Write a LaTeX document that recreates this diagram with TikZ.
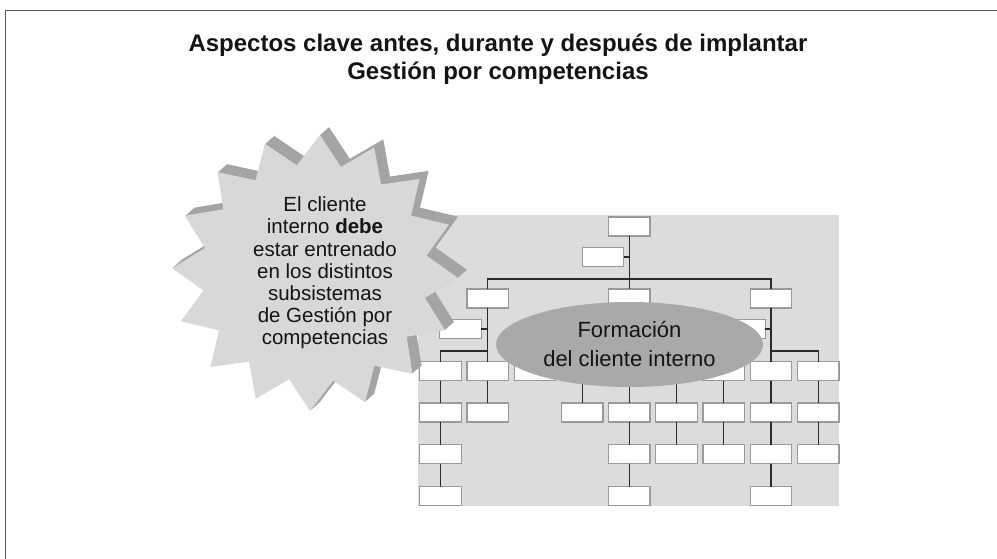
\documentclass[tikz,border=0pt]{standalone}
\usepackage{fontspec}
\setmainfont{Liberation Sans}
\usetikzlibrary{shapes.geometric}
\definecolor{framec}{HTML}{555555}
\definecolor{panelc}{HTML}{DCDCDD}
\definecolor{linec}{HTML}{2A2A2A}
\definecolor{boxc}{HTML}{9A9A9A}
\definecolor{ellc}{HTML}{A9A9A9}
\definecolor{starface}{HTML}{D8D8D8}
\definecolor{starside}{HTML}{A4A4A4}
\definecolor{txt}{HTML}{141414}
\begin{document}
\begin{tikzpicture}[x=1pt,y=-1pt,
  ln/.style={draw=linec,line width=1.2pt},
  bx/.style={draw=boxc,fill=white,line width=1.3pt,minimum width=41.5pt,minimum height=19pt,inner sep=0pt,outer sep=0pt},
]
\useasboundingbox (0,0) rectangle (997,559);
\draw[framec,line width=1.6pt] (5.5,559) -- (5.5,10.5) -- (997,10.5);

\node[font=\bfseries\fontsize{24}{28}\selectfont,align=center,text=txt] (title) at (498,59)
  {Aspectos clave antes, durante y después de implantar\\Gestión por competencias};

\node[fill=panelc,minimum width=421pt,minimum height=291pt,inner sep=0pt,anchor=north west] (panel) at (418,215) {};

% boxes
\node[bx] (top) at (629.3,226.5) {};
\node[bx] (a1) at (603,257) {};
\node[bx] (l2) at (487.7,298.5) {};
\node[bx] (m2) at (629.3,298.5) {};
\node[bx] (r2) at (770.9,298.5) {};
\node[bx] (a3l) at (460.5,329) {};
\node[bx] (a3r) at (744.5,329) {};
\foreach \k/\x in {0/440.5,1/487.7,2/534.9,3/582.1,4/629.3,5/676.5,6/723.7,7/770.9,8/818.1}{
  \node[bx] (r4c\k) at (\x,371) {};
}
\foreach \k/\x in {0/440.5,1/487.7,3/582.1,4/629.3,5/676.5,6/723.7,7/770.9,8/818.1}{
  \node[bx] (r5c\k) at (\x,412.5) {};
}
\foreach \k/\x in {0/440.5,4/629.3,5/676.5,6/723.7,7/770.9,8/818.1}{
  \node[bx] (r6c\k) at (\x,454) {};
}
\foreach \k/\x in {0/440.5,4/629.3,7/770.9}{
  \node[bx] (r7c\k) at (\x,496) {};
}

% connectors
\coordinate (bus1) at (629.3,279);
\coordinate (busl) at (487.7,351);
\coordinate (busm) at (629.3,351);
\coordinate (busr) at (770.9,351);
\draw[ln] (top.south) -- (m2.north);
\draw[ln] (a1.east) -- (a1.east -| top.south);
\draw[ln] (l2.north) |- (bus1) -| (r2.north);
\draw[ln] (l2.south) -- (r4c1.north);
\draw[ln] (a3l.east) -- (a3l.east -| l2.south);
\draw[ln] (r4c0.north) |- (busl);
\draw[ln] (m2.south) -- (r4c4.north);
\draw[ln] (r4c2.north) |- (busm) -| (r4c6.north);
\draw[ln] (r4c3.north) -- (r4c3.north |- busm);
\draw[ln] (r4c5.north) -- (r4c5.north |- busm);
\draw[ln] (r2.south) -- (r4c7.north);
\draw[ln] (a3r.east) -- (a3r.east -| r2.south);
\draw[ln] (r4c8.north) |- (busr);
\foreach \k in {0,1,3,4,5,6,7,8}{ \draw[ln] (r4c\k.south) -- (r5c\k.north); }
\foreach \k in {0,4,5,6,7,8}{ \draw[ln] (r5c\k.south) -- (r6c\k.north); }
\foreach \k in {0,4,7}{ \draw[ln] (r6c\k.south) -- (r7c\k.north); }

% ellipse
\node[ellipse,fill=ellc,minimum width=267pt,minimum height=85pt,inner sep=0pt,align=center,
  font=\fontsize{22}{29}\selectfont,text=txt] (form) at (629.5,344.5)
  {Formación\\del cliente interno};

% star (extruded)
\foreach \s in {10,9,...,1}{
  \fill[starside] ({315+\s*0.9+143*cos(88)},{273-\s*0.8-138*sin(88)})
    \foreach \k [evaluate=\k as \a using 88-11.25*\k,
                 evaluate=\k as \r using {ifthenelse(mod(\k,2)==0,1,0.79)}] in {1,...,31}
    { -- ({315+\s*0.9+143*\r*cos(\a)},{273-\s*0.8-138*\r*sin(\a)}) } -- cycle;
}
\fill[starface] ({315+143*cos(88)},{273-138*sin(88)})
  \foreach \k [evaluate=\k as \a using 88-11.25*\k,
               evaluate=\k as \r using {ifthenelse(mod(\k,2)==0,1,0.79)}] in {1,...,31}
  { -- ({315+143*\r*cos(\a)},{273-138*\r*sin(\a)}) } -- cycle;
\node[align=center,font=\fontsize{20.5}{22.2}\selectfont,text=txt] (startxt) at (325,273)
  {El cliente\\interno \textbf{debe}\\estar entrenado\\en los distintos\\subsistemas\\de Gestión por\\competencias};
\end{tikzpicture}
\end{document}
